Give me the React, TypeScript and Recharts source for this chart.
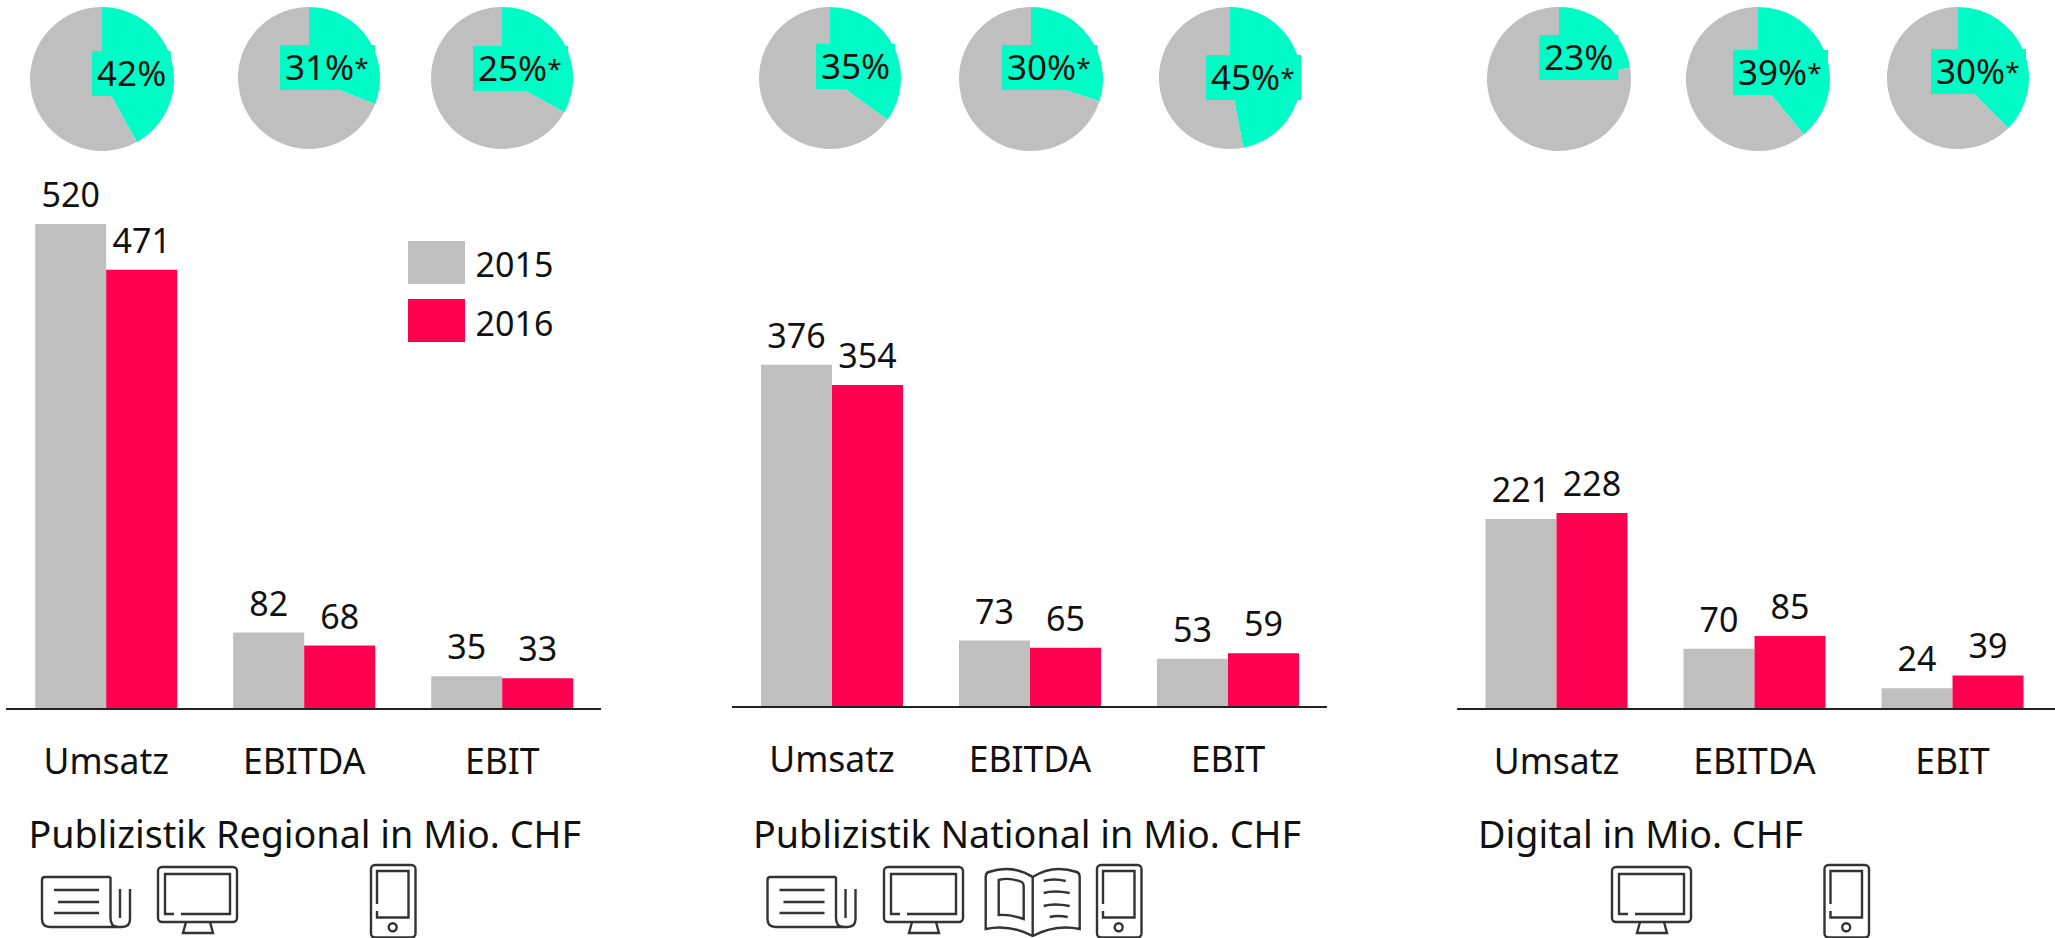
import React from 'react';
import { BarChart, Bar, XAxis, YAxis, LabelList, PieChart, Pie, Cell } from 'recharts';

const categories = ['Umsatz', 'EBITDA', 'EBIT'];
const years = ['2015', '2016'];

const regional2015 = [520, 82, 35];
const regional2016 = [471, 68, 33];
const national2015 = [376, 73, 53];
const national2016 = [354, 65, 59];
const digital2015 = [221, 70, 24];
const digital2016 = [228, 85, 39];

// wedge sizes as drawn, they do not always agree with the printed labels
const regionalShares = [42, 31, 33];
const nationalShares = [35, 30, 47];
const digitalShares = [22.5, 39, 37.5];
const regionalLabels = ['42%', '31%*', '25%*'];
const nationalLabels = ['35%', '30%*', '45%*'];
const digitalLabels = ['23%', '39%*', '30%*'];

const GREY = '#BFBFBF';
const RED = '#FF0050';
const TEAL = '#00FCC6';
const INK = '#111111';
const ICON = '#333333';
const FONT = '"Noto Sans", sans-serif';
const FONT_SIZE = 34;
const TICK_SIZE = 35.5;
const TITLE_SIZE = 37.7;

const toRows = (a: number[], b: number[]) =>
  categories.map((name, i) => ({ name, y2015: a[i], y2016: b[i] }));

const panels = [
  {
    title: 'Publizistik Regional in Mio. CHF',
    titleX: 28.5,
    rows: toRows(regional2015, regional2016),
    left: 6, width: 595.2, padLeft: 1.2, padRight: 0, plotHeight: 578, yMax: 619.7,
    pies: [
      { cx: 102.4, cy: 79, r: 72, rect: [92.1, 51, 78.7, 45] },
      { cx: 309.4, cy: 78, r: 71, rect: [280, 45, 95, 45] },
      { cx: 501.6, cy: 78, r: 71, rect: [473, 46, 95, 45] },
    ],
    shares: regionalShares,
    labels: regionalLabels,
  },
  {
    title: 'Publizistik National in Mio. CHF',
    titleX: 753,
    rows: toRows(national2015, national2016),
    left: 732, width: 595, padLeft: 1, padRight: 0, plotHeight: 576, yMax: 633,
    pies: [
      { cx: 829.6, cy: 78, r: 71, rect: [816, 43.7, 79, 45.3] },
      { cx: 1030.5, cy: 79, r: 72, rect: [1002, 45, 95.5, 45] },
      { cx: 1229.5, cy: 78, r: 71, rect: [1206, 55, 95, 45] },
    ],
    shares: nationalShares,
    labels: nationalLabels,
  },
  {
    title: 'Digital in Mio. CHF',
    titleX: 1478,
    rows: toRows(digital2015, digital2016),
    left: 1456.5, width: 598.5, padLeft: 0.5, padRight: 4, plotHeight: 578, yMax: 672,
    pies: [
      { cx: 1559, cy: 79, r: 72, rect: [1539.3, 35, 79, 45] },
      { cx: 1758.3, cy: 79, r: 72, rect: [1733, 50, 95, 45] },
      { cx: 1957.6, cy: 78, r: 71, rect: [1931, 49, 95, 45] },
    ],
    shares: digitalShares,
    labels: digitalLabels,
  },
];

const Newspaper = ({ x }: { x: number }) => (
  <g transform={`translate(${x},0)`} fill="none" stroke={ICON} strokeWidth={2.4}>
    <path d="M110.5 877 H45 Q42 877 42 880 V919 Q42 927 50 927 H122 Q130 927 130 919 V889" />
    <path d="M110.5 877 V918 Q110.5 927 118 927" />
    <path d="M120 889 V918" />
    <path d="M54 890 H99 M58 902 H99 M54 913 H99" />
  </g>
);

const Monitor = ({ x }: { x: number }) => (
  <g transform={`translate(${x},0)`} fill="none" stroke={ICON} strokeWidth={2.4}>
    <rect x={159} y={867} width={79} height={55} rx={4} />
    <path d="M175 914 H166 V874 H231 V914 H182" />
    <path d="M187 922 L184 933 H214 L211 922" />
  </g>
);

const Phone = ({ x }: { x: number }) => (
  <g transform={`translate(${x},0)`} fill="none" stroke={ICON} strokeWidth={2.4}>
    <rect x={373} y={865} width={44.5} height={72.5} rx={4} />
    <path d="M379 904 V871 H410.5 V917.5 H379 V911" />
    <circle cx={394.7} cy={927.3} r={4} />
  </g>
);

const Book = ({ x }: { x: number }) => (
  <g transform={`translate(${x},0)`} fill="none" stroke={ICON} strokeWidth={2.4}>
    <path d="M1035 877 Q1015 864 991 872 Q988 873 988 877 V929 Q1012 924 1035 936 Q1058 924 1082 929 V877 Q1082 873 1079 872 Q1055 864 1035 877 V936" />
    <path d="M1001 880 Q1012 877 1024 882 Q1026 883 1026 887 V919 Q1012 914 1001 915 Z" />
    <path d="M1046 881 Q1056 878 1068 881 M1046 893 Q1056 890 1072 893 M1046 906 Q1056 903 1072 906 M1052 917 Q1060 915 1070 917" />
  </g>
);

// the asterisk is smaller in the source font, Noto's is wide
const PieLabelText = ({ x, y, label }: { x: number; y: number; label: string }) => (
  <text x={x} y={y} fill={INK} fontSize={35} fontFamily={FONT}>
    {label.replace('*', '')}
    {label.endsWith('*') ? <tspan fontSize={26} dy={-3}>*</tspan> : null}
  </text>
);

const App = () => (
  <div style={{ position: 'absolute', left: 0, top: 0, width: 2055, height: 938, overflow: 'hidden', background: '#fff' }}>
    {panels.map((p) => (
      <React.Fragment key={p.title}>
        <div style={{ position: 'absolute', left: p.left, top: 131 }}>
          <BarChart
            width={p.width}
            height={p.plotHeight + 102}
            data={p.rows}
            barSize={71}
            barGap={0}
            margin={{ top: 0, right: 0, bottom: 0, left: 0 }}
          >
            <YAxis hide domain={[0, p.yMax]} />
            <XAxis
              dataKey="name"
              height={102}
              padding={{ left: p.padLeft, right: p.padRight }}
              tickLine={false}
              axisLine={{ stroke: '#222222', strokeWidth: 2 }}
              tickMargin={34}
              interval={0}
              tick={{ fill: INK, fontSize: TICK_SIZE, fontFamily: FONT }}
            />
            <Bar dataKey="y2015" fill={GREY} isAnimationActive={false}>
              <LabelList dataKey="y2015" position="top" offset={17} fill={INK} fontSize={FONT_SIZE} fontFamily={FONT} />
            </Bar>
            <Bar dataKey="y2016" fill={RED} isAnimationActive={false}>
              <LabelList dataKey="y2016" position="top" offset={17} fill={INK} fontSize={FONT_SIZE} fontFamily={FONT} />
            </Bar>
          </BarChart>
        </div>
        {p.pies.map((pie, i) => (
          <div key={i} style={{ position: 'absolute', left: pie.cx - 80, top: 0 }}>
            <PieChart width={160} height={160} margin={{ top: 0, right: 0, bottom: 0, left: 0 }}>
              <Pie
                data={[
                  { name: 'Anteil', value: p.shares[i] },
                  { name: 'Rest', value: 100 - p.shares[i] },
                ]}
                dataKey="value"
                cx={80}
                cy={pie.cy}
                outerRadius={pie.r}
                startAngle={90}
                endAngle={-270}
                stroke="none"
                isAnimationActive={false}
              >
                <Cell fill={TEAL} />
                <Cell fill={GREY} />
              </Pie>
            </PieChart>
          </div>
        ))}
      </React.Fragment>
    ))}

    <svg width={2055} height={938} style={{ position: 'absolute', left: 0, top: 0, pointerEvents: 'none' }}>
      {panels.map((p) => (
        <g key={p.title}>
          {p.pies.map((pie, i) => (
            <g key={i}>
              <rect x={pie.rect[0]} y={pie.rect[1]} width={pie.rect[2]} height={pie.rect[3]} fill={TEAL} />
              <PieLabelText x={pie.rect[0] + 5} y={pie.rect[1] + 35} label={p.labels[i]} />
            </g>
          ))}
          <text x={p.titleX} y={848} fill={INK} fontSize={TITLE_SIZE} fontFamily={FONT}>{p.title}</text>
        </g>
      ))}

      <rect x={408} y={241} width={57} height={43} fill={GREY} />
      <rect x={408} y={299} width={57} height={43} fill={RED} />
      <text x={475.6} y={277} fill={INK} fontSize={FONT_SIZE} fontFamily={FONT}>{years[0]}</text>
      <text x={475.6} y={336} fill={INK} fontSize={FONT_SIZE} fontFamily={FONT}>{years[1]}</text>

      <Newspaper x={0} />
      <Monitor x={-1} />
      <Phone x={-2} />
      <Newspaper x={725.5} />
      <Monitor x={725} />
      <Book x={-2.3} />
      <Phone x={724} />
      <Monitor x={1453} />
      <Phone x={1451.5} />
    </svg>
  </div>
);

export default App;
